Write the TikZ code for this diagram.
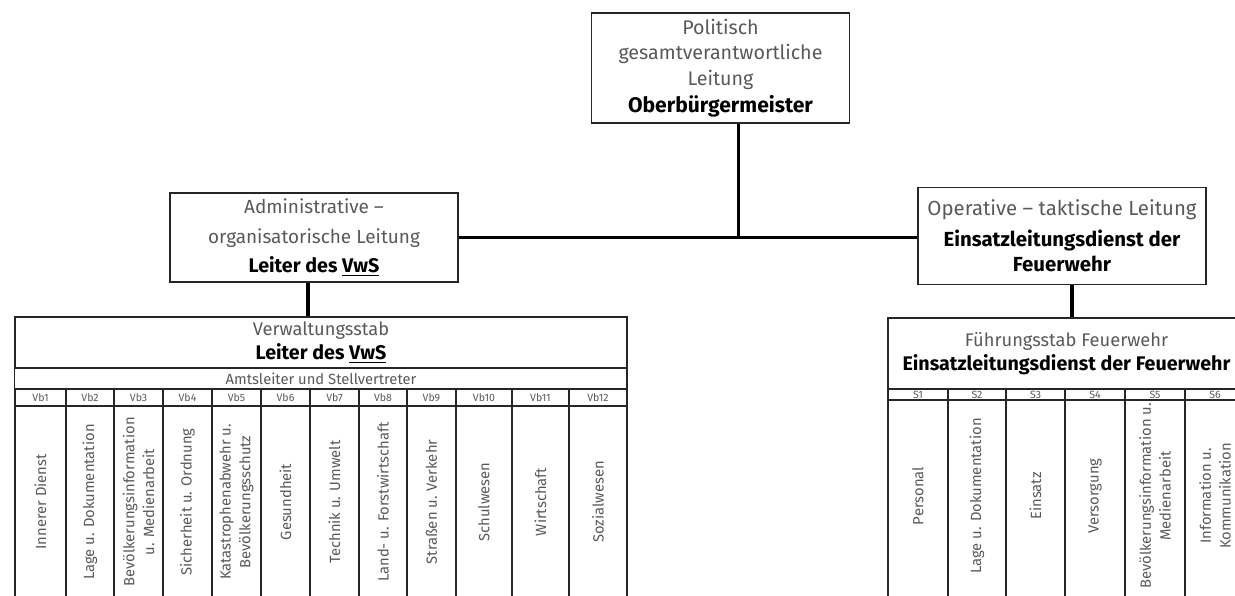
\documentclass[tikz,border=0pt]{standalone}
\usepackage{fontspec}
\setmainfont{Fira Sans}
\usepackage{xcolor}
\definecolor{txtgray}{gray}{0.35}
\newcommand{\fett}[1]{\textcolor{black}{\textbf{#1}}}
\tikzset{
  box/.style={draw=black!85, line width=0.8pt, align=center, text=txtgray, inner sep=1pt},
  link/.style={line width=2.6pt},
  tab/.style={draw=black!85, line width=0.9pt},
  coltext/.style={rotate=90, align=center, text=txtgray, font=\fontsize{10.5}{14}\selectfont},
  colhead/.style={text=txtgray, font=\fontsize{7.5}{8}\selectfont, inner sep=0pt}
}

\begin{document}
\begin{tikzpicture}[x=0.025cm,y=-0.025cm]
\useasboundingbox (0,0) rectangle (1235,596);
\clip (0,0) rectangle (1235,596);

% Leitungsebene
\node[box, minimum width=6.45cm, minimum height=2.75cm, font=\fontsize{14}{18}\selectfont] (obm) at (720.5,68) {Politisch\\gesamtverantwortliche\\Leitung\\[1pt]\fett{\fontsize{15}{18}\selectfont Oberbürgermeister}};
\node[box, minimum width=7.2cm, minimum height=2.225cm, font=\fontsize{13.5}{21}\selectfont] (adm) at (314,237.5) {Administrative --\\organisatorische Leitung\\\fett{\fontsize{14}{18}\selectfont Leiter des \underline{VwS}}};
\node[box, minimum width=7.2cm, minimum height=2.425cm, font=\fontsize{14.5}{18}\selectfont] (ops) at (1062,236) {Operative -- taktische Leitung\\[4pt]\fett{Einsatzleitungsdienst der}\\\fett{Feuerwehr}};

% Verwaltungsstab
\node[tab, minimum width=15.3cm, minimum height=1.275cm, align=center, text=txtgray, font=\fontsize{13}{17}\selectfont] (vws) at (321,342.5) {Verwaltungsstab\\\fett{\fontsize{14}{17}\selectfont Leiter des \underline{VwS}}};
\draw[tab] (vws.south west) rectangle (627,389);
\node[text=txtgray, font=\fontsize{10.5}{12}\selectfont, inner sep=0pt] (amt) at (321,379) {Amtsleiter und Stellvertreter};
\foreach \i/\xa/\xb/\txt in {1/15/66/{Innerer Dienst}, 2/66/114/{Lage u. Dokumentation},
  3/114/163/{Bevölkerungsinformation\\u. Medienarbeit}, 4/163/212/{Sicherheit u. Ordnung},
  5/212/261/{Katastrophenabwehr u.\\Bevölkerungsschutz}, 6/261/310/Gesundheit,
  7/310/359/{Technik u. Umwelt}, 8/359/407/{Land- u. Forstwirtschaft},
  9/407/456/{Straßen u. Verkehr}, 10/456/512/Schulwesen, 11/512/569/Wirtschaft,
  12/569/627/Sozialwesen}{
  \draw[tab] (\xa,389) rectangle (\xb,406);
  \draw[tab] (\xa,406) rectangle (\xb,615);
  \node[colhead] (vb\i) at ({(\xa+\xb)/2},397.5) {Vb\i};
  \node[coltext] (vbt\i) at ({(\xa+\xb)/2},502) {\txt};
}

% Fuehrungsstab
\node[tab, minimum width=8.925cm, minimum height=1.775cm, align=center, text=txtgray, font=\fontsize{13}{17}\selectfont] (fst) at (1066.5,353.5) {Führungsstab Feuerwehr\\\fett{\fontsize{14}{17}\selectfont Einsatzleitungsdienst der Feuerwehr}};
\foreach \i/\xa/\xb/\txt in {1/888/948/Personal, 2/948/1006/{Lage u. Dokumentation},
  3/1006/1065/Einsatz, 4/1065/1125/Versorgung,
  5/1125/1185/{Bevölkerungsinformation u.\\Medienarbeit}, 6/1185/1245/{Information u.\\Kommunikation}}{
  \draw[tab] (\xa,389) rectangle (\xb,400);
  \draw[tab] (\xa,400) rectangle (\xb,615);
  \node[colhead] (s\i) at ({(\xa+\xb)/2},394.5) {S\i};
  \node[coltext] (st\i) at ({(\xa+\xb)/2},496) {\txt};
}

% Verbindungen
\draw[link] ([xshift=0.45cm]obm.south) -- ([xshift=0.45cm]obm.south |- adm.east);
\draw[link] (adm.east) -- (adm.east -| ops.west);
\draw[link] ([xshift=-0.15cm]adm.south) -- ([xshift=-0.15cm]adm.south |- vws.north);
\draw[link] ([xshift=0.25cm]ops.south) -- ([xshift=0.25cm]ops.south |- fst.north);
\end{tikzpicture}
\end{document}
